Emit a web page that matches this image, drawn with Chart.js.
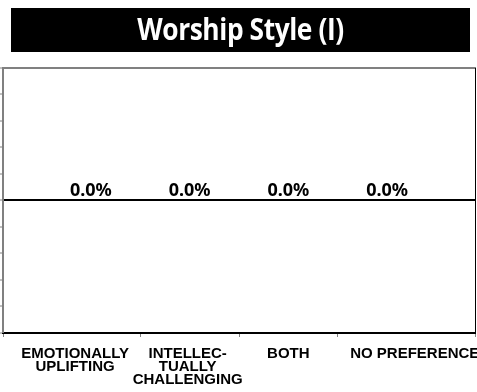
<!DOCTYPE html>
<html>
<head>
<meta charset="utf-8">
<title>Worship Style (I)</title>
<script src="https://cdn.jsdelivr.net/npm/chart.js@4/dist/chart.umd.min.js"></script>
<style>
    html, body { margin: 0; padding: 0; background: #fff; }
    #wrap { position: relative; width: 477px; height: 392px; overflow: hidden; }
    #chart-title {
        position: absolute; left: 11px; top: 8px; width: 459px; height: 44px;
        margin: 0; background: #000; color: #fff; text-align: center;
        font: bold 31px 'Open Sans', sans-serif;
        line-height: 40px; letter-spacing: -0.5px;
    }
    #chart-title span { display: inline-block; transform: scaleX(0.85); }
    #chart { position: absolute; left: 0; top: 0; }
</style>
</head>
<body>
<div id="wrap">
    <canvas id="chart" width="477" height="392"></canvas>
    <h1 id="chart-title"><span>Worship Style (I)</span></h1>
</div>
<script>
// Worship style responses - share of respondents per answer

const categories = [
    ['EMOTIONALLY', 'UPLIFTING'],
    ['INTELLEC-', 'TUALLY', 'CHALLENGING'],
    ['BOTH'],
    ['NO PREFERENCE']
];
const shares = [0.0, 0.0, 0.0, 0.0];

const yTicks = [-5, -4, -3, -2, -1, 0, 1, 2, 3, 4, 5];

// x runs a little past the outer categories, like the original sheet
const X_MIN = -0.89;
const X_MAX = 3.89;
// where the category names sit (middle of each visible segment)
const labelSpots = [-0.16, 0.98, 2.0, 3.28];

const GRAY = '#808080';

const valueLabels = {
    id: 'valueLabels',
    afterDatasetsDraw(chart) {
        const ctx = chart.ctx;
        const meta = chart.getDatasetMeta(0);
        ctx.save();
        ctx.font = 'bold 18px "Noto Sans", sans-serif';
        ctx.fillStyle = '#000';
        ctx.textAlign = 'center';
        ctx.textBaseline = 'bottom';
        meta.data.forEach((bar, i) => {
            ctx.fillText(shares[i].toFixed(1) + '%', bar.x, bar.y - 1);
        });
        ctx.restore();
    }
};

function noSidePadding(scale) {
    scale.paddingLeft = 0;
    scale.paddingRight = 0;
}

const ctx = document.getElementById('chart').getContext('2d');
new Chart(ctx, {
    type: 'bar',
    data: {
        datasets: [{
            data: shares.map((v, i) => ({ x: i, y: v })),
            backgroundColor: '#000',
            borderWidth: 0,
            barPercentage: 0.6
        }]
    },
    options: {
        responsive: false,
        animation: false,
        layout: { padding: { top: 68, right: 2, bottom: 4, left: 0 } },
        plugins: {
            legend: { display: false },
            tooltip: { enabled: false },
            title: { display: false }
        },
        scales: {
            x: {
                type: 'linear',
                position: 'bottom',
                offset: false,
                min: X_MIN,
                max: X_MAX,
                weight: 0,
                afterBuildTicks: s => { s.ticks = [X_MIN, 0.5, 1.5, 2.5, X_MAX].map(v => ({ value: v })); },
                afterFit: noSidePadding,
                ticks: { display: false },
                grid: { offset: false, drawOnChartArea: false, tickLength: 4, tickColor: GRAY, tickWidth: 1 },
                border: { color: '#000', width: 2 }
            },
            xNames: {
                type: 'linear',
                position: 'bottom',
                axis: 'x',
                offset: false,
                min: X_MIN,
                max: X_MAX,
                weight: 1,
                afterBuildTicks: s => { s.ticks = labelSpots.map(v => ({ value: v })); },
                afterFit: noSidePadding,
                ticks: {
                    autoSkip: false,
                    maxRotation: 0,
                    padding: 2,
                    color: '#000',
                    font: { family: '"Liberation Sans", Arial, sans-serif', size: 15, weight: 'bold', lineHeight: 0.867 },
                    callback: (v, i) => categories[i]
                },
                grid: { display: false },
                border: { display: false }
            },
            xTop: {
                type: 'linear',
                position: 'top',
                axis: 'x',
                offset: false,
                min: X_MIN,
                max: X_MAX,
                afterFit: noSidePadding,
                ticks: { display: false },
                grid: { display: false, drawTicks: false },
                border: { color: GRAY, width: 2 }
            },
            y: {
                type: 'linear',
                position: 'left',
                min: yTicks[0],
                max: yTicks[yTicks.length - 1],
                afterBuildTicks: s => { s.ticks = yTicks.map(v => ({ value: v })); },
                ticks: { display: false },
                grid: {
                    color: c => (c.tick && c.tick.value === 0 ? '#000' : 'rgba(0,0,0,0)'),
                    lineWidth: c => (c.tick && c.tick.value === 0 ? 2 : 0),
                    tickColor: GRAY,
                    tickWidth: 1,
                    tickLength: 3
                },
                border: { color: GRAY, width: 2 }
            },
            yRight: {
                type: 'linear',
                position: 'right',
                axis: 'y',
                min: yTicks[0],
                max: yTicks[yTicks.length - 1],
                ticks: { display: false },
                grid: { display: false, drawTicks: false },
                border: { color: '#000', width: 1 }
            }
        }
    },
    plugins: [valueLabels]
});
</script>
</body>
</html>
